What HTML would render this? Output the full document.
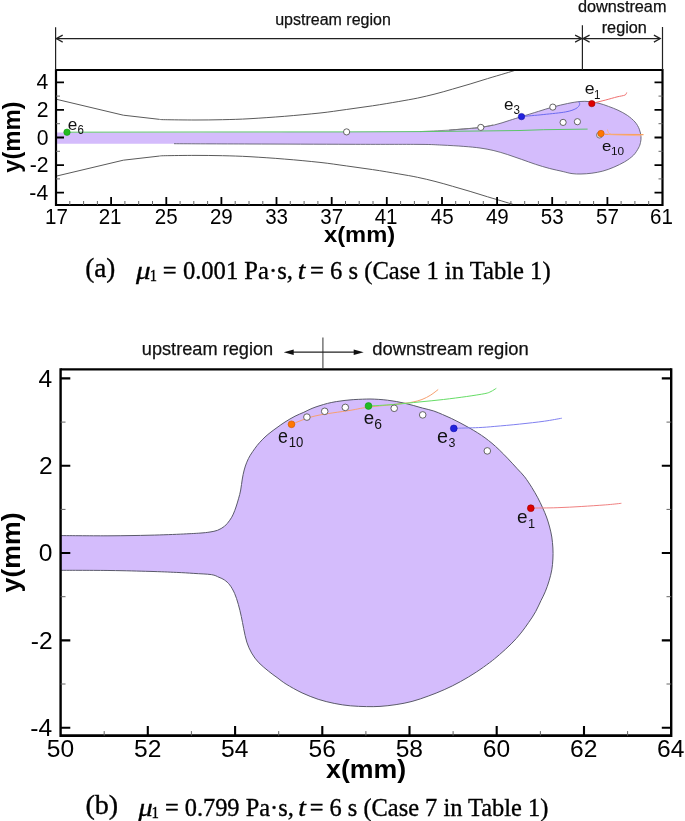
<!DOCTYPE html>
<html><head><meta charset="utf-8"><style>
html,body{margin:0;padding:0;background:#fff;width:685px;height:821px;overflow:hidden}
svg{display:block;will-change:transform}
</style></head><body>
<svg width="685" height="821" viewBox="0 0 685 821">
<rect width="685" height="821" fill="#fff"/>
<path d="M56.0,132.4 C71.7,132.4 117.7,132.4 150.0,132.4 C182.3,132.4 217.3,132.3 250.0,132.2 C282.7,132.1 317.7,132.1 346.0,132.0 C374.3,131.9 402.8,131.9 420.0,131.6 C437.2,131.3 441.2,130.6 449.2,130.1 C457.2,129.6 463.1,129.0 468.2,128.6 C473.3,128.2 475.6,128.0 480.0,127.4 C484.4,126.8 489.7,126.1 494.6,124.9 C499.5,123.8 504.7,121.9 509.2,120.5 C513.7,119.1 516.7,118.1 521.6,116.6 C526.5,115.1 533.2,113.0 538.4,111.4 C543.6,109.8 548.1,108.3 553.0,107.0 C557.9,105.7 563.1,104.4 567.6,103.5 C572.1,102.6 576.4,101.8 580.0,101.5 C583.6,101.2 586.3,101.3 589.5,101.6 C592.7,101.9 595.8,102.5 599.0,103.3 C602.2,104.1 605.3,105.2 608.5,106.4 C611.7,107.6 614.9,108.7 618.0,110.2 C621.1,111.7 624.6,113.4 627.4,115.4 C630.2,117.4 633.0,119.7 635.0,122.0 C637.0,124.3 638.3,126.7 639.3,129.2 C640.3,131.6 640.8,134.5 641.0,136.7 C641.2,138.9 640.9,140.6 640.5,142.5 C640.1,144.4 639.7,145.9 638.5,148.0 C637.3,150.1 635.8,152.9 633.5,155.2 C631.2,157.5 628.0,159.8 624.7,161.8 C621.4,163.8 617.4,165.6 613.8,167.2 C610.1,168.8 606.4,170.1 602.8,171.1 C599.1,172.1 595.5,172.7 591.9,173.2 C588.3,173.7 584.3,173.9 581.0,174.0 C577.7,174.1 575.0,174.0 572.0,173.6 C569.0,173.2 567.0,172.5 563.2,171.6 C559.4,170.7 553.9,169.6 549.3,168.4 C544.7,167.2 540.1,165.8 535.5,164.3 C530.9,162.8 526.2,161.0 521.6,159.4 C517.0,157.8 512.3,156.1 507.7,154.6 C503.1,153.1 498.5,151.7 493.9,150.6 C489.3,149.5 485.0,148.7 480.0,148.0 C475.0,147.3 470.2,146.9 463.8,146.4 C457.4,145.9 449.2,145.4 441.9,145.1 C434.6,144.8 435.3,144.5 420.0,144.4 C404.7,144.3 378.3,144.4 350.0,144.3 C321.7,144.2 279.3,144.1 250.0,144.0 C220.7,143.9 206.3,143.8 174.0,143.7 C141.7,143.6 75.7,143.7 56.0,143.7" fill="#d4bcfc" stroke="none"/>
<path d="M449.2,130.1 C452.4,129.8 463.1,129.0 468.2,128.6 C473.3,128.2 475.6,128.0 480.0,127.4 C484.4,126.8 489.7,126.1 494.6,124.9 C499.5,123.8 504.7,121.9 509.2,120.5 C513.7,119.1 516.7,118.1 521.6,116.6 C526.5,115.1 533.2,113.0 538.4,111.4 C543.6,109.8 548.1,108.3 553.0,107.0 C557.9,105.7 563.1,104.4 567.6,103.5 C572.1,102.6 576.4,101.8 580.0,101.5 C583.6,101.2 586.3,101.3 589.5,101.6 C592.7,101.9 595.8,102.5 599.0,103.3 C602.2,104.1 605.3,105.2 608.5,106.4 C611.7,107.6 614.9,108.7 618.0,110.2 C621.1,111.7 624.6,113.4 627.4,115.4 C630.2,117.4 633.0,119.7 635.0,122.0 C637.0,124.3 638.3,126.7 639.3,129.2 C640.3,131.6 640.8,134.5 641.0,136.7 C641.2,138.9 640.9,140.6 640.5,142.5 C640.1,144.4 639.7,145.9 638.5,148.0 C637.3,150.1 635.8,152.9 633.5,155.2 C631.2,157.5 628.0,159.8 624.7,161.8 C621.4,163.8 617.4,165.6 613.8,167.2 C610.1,168.8 606.4,170.1 602.8,171.1 C599.1,172.1 595.5,172.7 591.9,173.2 C588.3,173.7 584.3,173.9 581.0,174.0 C577.7,174.1 575.0,174.0 572.0,173.6 C569.0,173.2 567.0,172.5 563.2,171.6 C559.4,170.7 553.9,169.6 549.3,168.4 C544.7,167.2 540.1,165.8 535.5,164.3 C530.9,162.8 526.2,161.0 521.6,159.4 C517.0,157.8 512.3,156.1 507.7,154.6 C503.1,153.1 498.5,151.7 493.9,150.6 C489.3,149.5 485.0,148.7 480.0,148.0 C475.0,147.3 470.2,146.9 463.8,146.4 C457.4,145.9 449.2,145.4 441.9,145.1 C434.6,144.8 435.3,144.5 420.0,144.4 C404.7,144.3 378.3,144.4 350.0,144.3 C321.7,144.2 279.3,144.1 250.0,144.0 C220.7,143.9 186.7,143.8 174.0,143.7" fill="none" stroke="#5a5a6a" stroke-width="1" opacity="0.85"/>
<path d="M420.0,131.6 C424.9,131.3 441.2,130.6 449.2,130.1 C457.2,129.6 463.0,129.0 468.2,128.6 C473.4,128.2 476.5,128.0 480.6,127.4 C484.7,126.8 490.9,125.4 493.0,125.0" fill="none" stroke="#7a7a7a" stroke-width="0.8"/>
<path d="M56,99.2 L123.3,115.2 L159,119.3  C160.0,119.4 159.2,119.6 165.2,119.7 C171.2,119.8 185.5,120.0 195.0,120.0 C204.5,120.0 213.2,119.9 222.4,119.7 C231.6,119.5 239.6,119.3 250.0,118.7 C260.4,118.1 273.0,117.2 284.7,116.3 C296.4,115.3 309.7,114.1 320.0,113.0 C330.3,111.9 337.5,110.7 346.3,109.5 C355.1,108.3 363.9,107.1 372.6,105.8 C381.4,104.5 391.3,102.8 398.8,101.5 C406.3,100.2 411.5,99.3 417.5,98.1 C423.5,96.8 429.1,95.5 435.0,94.0 C440.9,92.5 446.8,90.8 452.6,89.1 C458.5,87.4 464.3,85.8 470.1,84.0 C475.9,82.2 481.8,80.4 487.6,78.6 C493.4,76.8 500.3,74.9 505.1,73.4 C509.9,72.0 514.6,70.5 516.5,69.9" fill="none" stroke="#5a5a5a" stroke-width="1"/>
<path d="M56,176.2 L123.3,160.2 L159,156.1  C160.0,156.0 159.2,155.8 165.2,155.7 C171.2,155.6 185.5,155.4 195.0,155.4 C204.5,155.4 213.2,155.5 222.4,155.7 C231.6,155.9 239.6,156.1 250.0,156.7 C260.4,157.3 273.0,158.1 284.7,159.1 C296.4,160.0 309.7,161.3 320.0,162.4 C330.3,163.5 337.5,164.7 346.3,165.9 C355.1,167.1 363.9,168.3 372.6,169.6 C381.4,170.9 391.3,172.6 398.8,173.9 C406.3,175.2 411.5,176.0 417.5,177.3 C423.5,178.5 429.1,179.9 435.0,181.4 C440.9,182.9 446.8,184.6 452.6,186.3 C458.5,188.0 464.3,189.6 470.1,191.4 C475.9,193.1 481.8,195.0 487.6,196.8 C493.4,198.6 500.3,200.5 505.1,202.0 C509.9,203.4 514.6,204.9 516.5,205.5" fill="none" stroke="#5a5a5a" stroke-width="1"/>
<path d="M67.0,132.2 L200.0,132.0 L346.0,131.9 L420.0,131.6 L480.0,131.0 L520.0,130.5 L543.8,129.7 L587.6,129.1" fill="none" stroke="#5cc46a" stroke-width="1"/>
<path d="M521.5,116.6 C525.2,116.2 536.4,115.3 543.8,114.5 C551.2,113.7 560.4,112.9 565.7,111.9 C571.1,110.9 573.6,109.8 575.9,108.6 C578.2,107.4 579.1,105.8 579.6,104.6 C580.1,103.4 578.9,102.2 578.8,101.7" fill="none" stroke="#6a6af0" stroke-width="1"/>
<path d="M591.8,103.5 C594.1,102.9 601.5,101.1 605.7,100.0 C609.9,98.9 613.8,97.7 617.0,96.9 C620.2,96.1 623.3,95.8 624.9,95.1 C626.5,94.4 626.4,92.9 626.7,92.5" fill="none" stroke="#f07070" stroke-width="1"/>
<path d="M604.5,134.3 L643.5,134.6" fill="none" stroke="#f8a060" stroke-width="1.2"/>
<path d="M608,134.5 L641,135.8" fill="none" stroke="#f8b080" stroke-width="0.8"/>
<path d="M607.5,129.5 C607.8,132 608.5,133.5 611,134.2" fill="none" stroke="#f8b080" stroke-width="0.8"/>
<circle cx="346.6" cy="131.9" r="3.1" fill="#fff" stroke="#555" stroke-width="0.9"/>
<circle cx="480.8" cy="127.4" r="3.1" fill="#fff" stroke="#555" stroke-width="0.9"/>
<circle cx="552.8" cy="107.1" r="3.1" fill="#fff" stroke="#555" stroke-width="0.9"/>
<circle cx="563.1" cy="122.4" r="3.1" fill="#fff" stroke="#555" stroke-width="0.9"/>
<circle cx="577.4" cy="121.7" r="3.1" fill="#fff" stroke="#555" stroke-width="0.9"/>
<circle cx="599.5" cy="135.1" r="3" fill="#ddd" stroke="#666" stroke-width="0.8"/>
<circle cx="67" cy="132.2" r="3.2" fill="#22bb22" stroke="#119911" stroke-width="0.6"/>
<circle cx="521.5" cy="116.6" r="3.2" fill="#2222dd" stroke="#1111aa" stroke-width="0.6"/>
<circle cx="591.8" cy="103.6" r="3.2" fill="#dd0000" stroke="#990000" stroke-width="0.6"/>
<circle cx="601" cy="133.5" r="3.2" fill="#ff7700" stroke="#cc5500" stroke-width="0.6"/>
<text x="67.78" y="129.93" font-family='"Liberation Sans", sans-serif' font-size="17.15" textLength="9.58" lengthAdjust="spacingAndGlyphs" fill="#111" xml:space="preserve" >e</text><text x="77.51" y="134.18" font-family='"Liberation Sans", sans-serif' font-size="11.86" textLength="6.39" lengthAdjust="spacingAndGlyphs" fill="#111" xml:space="preserve" >6</text>
<text x="503.99" y="110.43" font-family='"Liberation Sans", sans-serif' font-size="17.34" textLength="9.47" lengthAdjust="spacingAndGlyphs" fill="#111" xml:space="preserve" >e</text><text x="513.46" y="114.48" font-family='"Liberation Sans", sans-serif' font-size="12.14" textLength="6.45" lengthAdjust="spacingAndGlyphs" fill="#111" xml:space="preserve" >3</text>
<text x="584.76" y="94.14" font-family='"Liberation Sans", sans-serif' font-size="16.06" textLength="9.82" lengthAdjust="spacingAndGlyphs" fill="#111" xml:space="preserve" >e</text><text x="594.12" y="98.60" font-family='"Liberation Sans", sans-serif' font-size="11.86" textLength="6.45" lengthAdjust="spacingAndGlyphs" fill="#111" xml:space="preserve" >1</text>
<text x="601.99" y="151.15" font-family='"Liberation Sans", sans-serif' font-size="15.15" textLength="9.35" lengthAdjust="spacingAndGlyphs" fill="#111" xml:space="preserve" >e</text><text x="611.00" y="155.19" font-family='"Liberation Sans", sans-serif' font-size="11.29" textLength="13.16" lengthAdjust="spacingAndGlyphs" fill="#111" xml:space="preserve" >10</text>
<path d="M56,70 L662.5,70 M56,205 L662.5,205" stroke="#000" stroke-width="2.2" fill="none"/>
<path d="M56,69 L56,206 M662.5,69 L662.5,206" stroke="#000" stroke-width="2.2" fill="none"/>
<path d="M111.1,205 L111.1,197 M166.3,205 L166.3,197 M221.4,205 L221.4,197 M276.5,205 L276.5,197 M331.7,205 L331.7,197 M386.8,205 L386.8,197 M442.0,205 L442.0,197 M497.1,205 L497.1,197 M552.2,205 L552.2,197 M607.4,205 L607.4,197 M56,192.7 L64,192.7 M662.5,192.7 L654.5,192.7 M56,165.1 L64,165.1 M662.5,165.1 L654.5,165.1 M56,137.5 L64,137.5 M662.5,137.5 L654.5,137.5 M56,109.9 L64,109.9 M662.5,109.9 L654.5,109.9 M56,82.3 L64,82.3 M662.5,82.3 L654.5,82.3" stroke="#000" stroke-width="1.8" fill="none"/>
<path d="M69.8,205 L69.8,201 M83.6,205 L83.6,201 M97.4,205 L97.4,201 M124.9,205 L124.9,201 M138.7,205 L138.7,201 M152.5,205 L152.5,201 M180.1,205 L180.1,201 M193.8,205 L193.8,201 M207.6,205 L207.6,201 M235.2,205 L235.2,201 M249.0,205 L249.0,201 M262.8,205 L262.8,201 M290.3,205 L290.3,201 M304.1,205 L304.1,201 M317.9,205 L317.9,201 M345.5,205 L345.5,201 M359.2,205 L359.2,201 M373.0,205 L373.0,201 M400.6,205 L400.6,201 M414.4,205 L414.4,201 M428.2,205 L428.2,201 M455.7,205 L455.7,201 M469.5,205 L469.5,201 M483.3,205 L483.3,201 M510.9,205 L510.9,201 M524.7,205 L524.7,201 M538.4,205 L538.4,201 M566.0,205 L566.0,201 M579.8,205 L579.8,201 M593.6,205 L593.6,201 M621.1,205 L621.1,201 M634.9,205 L634.9,201 M648.7,205 L648.7,201 M56,178.9 L60,178.9 M662.5,178.9 L658.5,178.9 M56,151.3 L60,151.3 M662.5,151.3 L658.5,151.3 M56,123.7 L60,123.7 M662.5,123.7 L658.5,123.7 M56,96.1 L60,96.1 M662.5,96.1 L658.5,96.1" stroke="#666" stroke-width="1" fill="none"/>
<text x="45.10" y="223.80" font-family='"Liberation Sans", sans-serif' font-size="21.20" textLength="22.87" lengthAdjust="spacingAndGlyphs" fill="#000" xml:space="preserve" >17</text>
<text x="98.69" y="223.80" font-family='"Liberation Sans", sans-serif' font-size="21.20" textLength="22.87" lengthAdjust="spacingAndGlyphs" fill="#000" xml:space="preserve" >21</text>
<text x="154.76" y="223.80" font-family='"Liberation Sans", sans-serif' font-size="21.20" textLength="22.87" lengthAdjust="spacingAndGlyphs" fill="#000" xml:space="preserve" >25</text>
<text x="209.94" y="223.80" font-family='"Liberation Sans", sans-serif' font-size="21.20" textLength="22.87" lengthAdjust="spacingAndGlyphs" fill="#000" xml:space="preserve" >29</text>
<text x="265.17" y="223.80" font-family='"Liberation Sans", sans-serif' font-size="21.20" textLength="22.87" lengthAdjust="spacingAndGlyphs" fill="#000" xml:space="preserve" >33</text>
<text x="320.37" y="223.80" font-family='"Liberation Sans", sans-serif' font-size="21.20" textLength="22.87" lengthAdjust="spacingAndGlyphs" fill="#000" xml:space="preserve" >37</text>
<text x="374.65" y="223.80" font-family='"Liberation Sans", sans-serif' font-size="21.20" textLength="22.87" lengthAdjust="spacingAndGlyphs" fill="#000" xml:space="preserve" >41</text>
<text x="430.72" y="223.80" font-family='"Liberation Sans", sans-serif' font-size="21.20" textLength="22.87" lengthAdjust="spacingAndGlyphs" fill="#000" xml:space="preserve" >45</text>
<text x="485.90" y="223.80" font-family='"Liberation Sans", sans-serif' font-size="21.20" textLength="22.87" lengthAdjust="spacingAndGlyphs" fill="#000" xml:space="preserve" >49</text>
<text x="540.83" y="223.80" font-family='"Liberation Sans", sans-serif' font-size="21.20" textLength="22.87" lengthAdjust="spacingAndGlyphs" fill="#000" xml:space="preserve" >53</text>
<text x="596.03" y="223.80" font-family='"Liberation Sans", sans-serif' font-size="21.20" textLength="22.87" lengthAdjust="spacingAndGlyphs" fill="#000" xml:space="preserve" >57</text>
<text x="650.05" y="223.80" font-family='"Liberation Sans", sans-serif' font-size="21.20" textLength="22.87" lengthAdjust="spacingAndGlyphs" fill="#000" xml:space="preserve" >61</text>
<text x="36.43" y="89.40" font-family='"Liberation Sans", sans-serif' font-size="21.20" fill="#000" xml:space="preserve" >4</text>
<text x="36.87" y="117.00" font-family='"Liberation Sans", sans-serif' font-size="21.20" fill="#000" xml:space="preserve" >2</text>
<text x="36.64" y="144.60" font-family='"Liberation Sans", sans-serif' font-size="21.20" fill="#000" xml:space="preserve" >0</text>
<text x="29.81" y="172.20" font-family='"Liberation Sans", sans-serif' font-size="21.20" fill="#000" xml:space="preserve" >-2</text>
<text x="29.37" y="199.80" font-family='"Liberation Sans", sans-serif' font-size="21.20" fill="#000" xml:space="preserve" >-4</text>
<text x="324.03" y="241.80" font-family='"Liberation Sans", sans-serif' font-size="22.60" font-weight="bold" textLength="71.16" lengthAdjust="spacingAndGlyphs" fill="#000" xml:space="preserve" >x(mm)</text>
<text transform="rotate(-90)" x="-172.79" y="20.20" font-family='"Liberation Sans", sans-serif' font-size="23.60" font-weight="bold" textLength="71.19" lengthAdjust="spacingAndGlyphs" fill="#000">y(mm)</text>
<path d="M55.6,27.3 L55.6,70 M582.4,25.3 L582.4,70 M662.5,26.9 L662.5,70" stroke="#222" stroke-width="1.2" fill="none"/>
<path d="M56,38.6 L660,38.6" stroke="#222" stroke-width="1.2" fill="none"/>
<path d="M62.7,35.1 L56.3,38.6 L62.7,42.1 M575.1,35.1 L581.8,38.6 L575.1,42.1 M589.6,35.1 L583,38.6 L589.6,42.1 M653.9,35.1 L660.3,38.6 L653.9,42.1" stroke="#222" stroke-width="1.2" fill="none"/>
<text x="275.16" y="24.90" font-family='"Liberation Sans", sans-serif' font-size="16.00" fill="#111" xml:space="preserve" stroke="#111" stroke-width="0.25">upstream region</text>
<text x="577.92" y="11.70" font-family='"Liberation Sans", sans-serif' font-size="16.40" textLength="88.55" lengthAdjust="spacingAndGlyphs" fill="#111" xml:space="preserve" stroke="#111" stroke-width="0.25">downstream</text>
<text x="601.73" y="32.70" font-family='"Liberation Sans", sans-serif' font-size="16.60" textLength="45.12" lengthAdjust="spacingAndGlyphs" fill="#111" xml:space="preserve" stroke="#111" stroke-width="0.25">region</text>
<text x="85.20" y="276.60" font-family='"Liberation Serif", serif' font-size="27.60" textLength="30.19" lengthAdjust="spacingAndGlyphs" fill="#000" xml:space="preserve" stroke="#000" stroke-width="0.35">(a)</text><text x="136.03" y="278.70" font-family='"Liberation Serif", serif' font-size="24.60" font-style="italic" textLength="14.63" lengthAdjust="spacingAndGlyphs" fill="#000" xml:space="preserve" stroke="#000" stroke-width="0.35">μ</text><text x="149.72" y="280.90" font-family='"Liberation Serif", serif' font-size="16.00" textLength="7.24" lengthAdjust="spacingAndGlyphs" fill="#000" xml:space="preserve" stroke="#000" stroke-width="0.35">1</text><text x="162.87" y="278.70" font-family='"Liberation Serif", serif' font-size="24.60" fill="#000" xml:space="preserve" stroke="#000" stroke-width="0.35">= 0.001 Pa·s,</text><text x="297.79" y="278.70" font-family='"Liberation Serif", serif' font-size="24.60" font-style="italic" textLength="7.66" lengthAdjust="spacingAndGlyphs" fill="#000" xml:space="preserve" stroke="#000" stroke-width="0.35">t</text><text x="310.07" y="278.70" font-family='"Liberation Serif", serif' font-size="24.60" fill="#000" xml:space="preserve" stroke="#000" stroke-width="0.35">= 6 s (Case 1 in Table 1)</text>
<path d="M60.0,535.6 C68.3,535.6 95.0,535.9 110.0,535.8 C125.0,535.7 137.7,535.5 150.0,535.2 C162.3,534.9 175.3,534.4 183.6,534.0 C191.9,533.6 195.6,533.4 200.0,533.1 C204.4,532.8 207.1,532.5 210.0,532.0 C212.9,531.5 215.1,531.2 217.5,530.3 C219.9,529.3 222.4,528.0 224.5,526.3 C226.6,524.6 228.3,522.2 229.8,520.2 C231.3,518.2 232.3,516.3 233.3,514.1 C234.3,511.9 235.1,509.6 236.0,507.0 C236.9,504.4 237.7,501.6 238.5,498.8 C239.3,496.0 240.1,493.3 240.7,490.0 C241.3,486.7 241.7,482.3 242.3,479.0 C242.9,475.7 243.4,472.8 244.2,470.0 C244.9,467.2 245.8,464.7 246.8,462.2 C247.8,459.7 248.9,457.5 250.3,455.2 C251.7,452.9 253.5,450.4 255.0,448.3 C256.5,446.2 257.7,444.7 259.4,442.8 C261.1,440.9 263.1,438.8 265.0,437.0 C266.9,435.2 269.0,433.6 271.0,432.0 C273.0,430.4 274.7,429.3 277.0,427.6 C279.3,425.9 282.0,423.9 285.0,422.0 C288.0,420.1 291.9,417.8 295.0,416.2 C298.1,414.6 301.0,413.6 303.8,412.3 C306.6,411.0 309.3,409.5 312.0,408.4 C314.7,407.3 317.4,406.4 320.0,405.6 C322.6,404.8 324.8,404.1 327.5,403.4 C330.2,402.7 333.4,402.1 336.3,401.6 C339.2,401.1 342.1,400.7 345.0,400.4 C347.9,400.1 350.9,399.8 353.8,399.6 C356.7,399.4 359.9,399.3 362.6,399.2 C365.3,399.1 367.3,399.0 370.0,399.0 C372.7,399.0 375.9,399.2 378.8,399.4 C381.7,399.6 384.6,399.8 387.5,400.2 C390.4,400.6 393.4,401.0 396.3,401.5 C399.2,402.0 402.1,402.6 405.0,403.3 C407.9,404.0 410.9,404.8 413.8,405.6 C416.7,406.4 419.3,407.2 422.6,408.1 C425.9,409.0 430.5,409.9 433.8,411.0 C437.1,412.1 439.6,413.3 442.5,414.5 C445.4,415.7 448.4,417.0 451.3,418.4 C454.2,419.8 457.1,421.3 460.0,422.8 C462.9,424.3 465.9,425.9 468.8,427.6 C471.7,429.3 474.9,431.1 477.6,432.8 C480.3,434.5 482.6,436.1 485.0,437.8 C487.4,439.6 489.6,441.3 492.0,443.3 C494.4,445.3 496.7,447.4 499.4,450.0 C502.1,452.6 505.1,455.7 508.1,458.8 C511.1,461.9 514.5,465.8 517.3,468.8 C520.0,471.8 522.2,473.7 524.6,476.8 C527.0,479.9 529.7,484.1 531.9,487.6 C534.1,491.1 536.0,494.5 537.8,497.8 C539.6,501.1 541.0,504.3 542.5,507.5 C544.0,510.7 545.3,513.8 546.5,517.0 C547.7,520.2 548.7,523.7 549.6,527.0 C550.5,530.3 551.2,533.5 551.8,537.0 C552.3,540.5 552.7,544.3 552.9,548.0 C553.1,551.7 553.1,555.4 552.9,559.0 C552.7,562.6 552.4,566.2 551.8,569.8 C551.2,573.4 550.2,577.1 549.1,580.8 C548.0,584.5 546.6,588.5 545.2,591.8 C543.9,595.1 542.6,597.2 541.0,600.5 C539.4,603.8 537.6,608.1 535.6,611.7 C533.6,615.4 531.2,618.8 528.7,622.4 C526.2,626.0 523.8,629.5 520.9,633.1 C518.0,636.7 514.8,640.3 511.2,643.9 C507.6,647.5 503.1,651.5 499.5,654.6 C495.9,657.7 493.6,659.7 489.7,662.6 C485.8,665.5 481.3,668.8 476.4,672.0 C471.5,675.2 465.7,678.8 460.3,681.7 C454.9,684.7 449.6,687.3 444.2,689.7 C438.8,692.1 433.5,694.2 428.2,696.1 C422.9,698.0 417.5,700.0 412.1,701.4 C406.8,702.8 401.5,703.8 396.1,704.6 C390.8,705.4 384.9,706.1 380.0,706.4 C375.1,706.7 371.3,706.7 366.4,706.6 C361.4,706.5 355.7,706.3 350.3,705.8 C344.9,705.3 339.6,704.5 334.2,703.4 C328.8,702.3 323.5,701.0 318.2,699.3 C312.9,697.5 307.5,695.4 302.1,692.9 C296.8,690.4 290.3,686.7 286.1,684.1 C281.9,681.5 279.9,679.6 277.0,677.5 C274.1,675.4 271.7,673.8 268.7,671.3 C265.7,668.8 261.8,665.8 258.9,662.8 C256.0,659.8 253.6,656.5 251.6,653.0 C249.6,649.5 248.1,646.1 246.8,642.1 C245.5,638.1 244.6,633.0 243.7,628.7 C242.8,624.4 242.2,620.6 241.3,616.5 C240.4,612.4 239.4,608.1 238.3,604.3 C237.2,600.4 236.0,596.6 234.6,593.4 C233.2,590.2 231.4,587.1 229.7,584.9 C228.0,582.7 226.3,581.3 224.5,580.0 C222.7,578.7 221.2,578.2 219.0,577.3 C216.8,576.4 215.5,575.2 211.3,574.6 C207.1,574.0 199.6,573.8 193.8,573.4 C188.0,573.0 183.6,572.7 176.3,572.4 C169.0,572.1 161.1,571.7 150.0,571.4 C138.9,571.1 125.0,570.7 110.0,570.5 C95.0,570.3 68.3,570.3 60.0,570.3 Z" fill="#d4bcfc" stroke="none"/>
<path d="M60.0,535.6 C68.3,535.6 95.0,535.9 110.0,535.8 C125.0,535.7 137.7,535.5 150.0,535.2 C162.3,534.9 175.3,534.4 183.6,534.0 C191.9,533.6 195.6,533.4 200.0,533.1 C204.4,532.8 207.1,532.5 210.0,532.0 C212.9,531.5 215.1,531.2 217.5,530.3 C219.9,529.3 222.4,528.0 224.5,526.3 C226.6,524.6 228.3,522.2 229.8,520.2 C231.3,518.2 232.3,516.3 233.3,514.1 C234.3,511.9 235.1,509.6 236.0,507.0 C236.9,504.4 237.7,501.6 238.5,498.8 C239.3,496.0 240.1,493.3 240.7,490.0 C241.3,486.7 241.7,482.3 242.3,479.0 C242.9,475.7 243.4,472.8 244.2,470.0 C244.9,467.2 245.8,464.7 246.8,462.2 C247.8,459.7 248.9,457.5 250.3,455.2 C251.7,452.9 253.5,450.4 255.0,448.3 C256.5,446.2 257.7,444.7 259.4,442.8 C261.1,440.9 263.1,438.8 265.0,437.0 C266.9,435.2 269.0,433.6 271.0,432.0 C273.0,430.4 274.7,429.3 277.0,427.6 C279.3,425.9 282.0,423.9 285.0,422.0 C288.0,420.1 291.9,417.8 295.0,416.2 C298.1,414.6 301.0,413.6 303.8,412.3 C306.6,411.0 309.3,409.5 312.0,408.4 C314.7,407.3 317.4,406.4 320.0,405.6 C322.6,404.8 324.8,404.1 327.5,403.4 C330.2,402.7 333.4,402.1 336.3,401.6 C339.2,401.1 342.1,400.7 345.0,400.4 C347.9,400.1 350.9,399.8 353.8,399.6 C356.7,399.4 359.9,399.3 362.6,399.2 C365.3,399.1 367.3,399.0 370.0,399.0 C372.7,399.0 375.9,399.2 378.8,399.4 C381.7,399.6 384.6,399.8 387.5,400.2 C390.4,400.6 393.4,401.0 396.3,401.5 C399.2,402.0 402.1,402.6 405.0,403.3 C407.9,404.0 410.9,404.8 413.8,405.6 C416.7,406.4 419.3,407.2 422.6,408.1 C425.9,409.0 430.5,409.9 433.8,411.0 C437.1,412.1 439.6,413.3 442.5,414.5 C445.4,415.7 448.4,417.0 451.3,418.4 C454.2,419.8 457.1,421.3 460.0,422.8 C462.9,424.3 465.9,425.9 468.8,427.6 C471.7,429.3 474.9,431.1 477.6,432.8 C480.3,434.5 482.6,436.1 485.0,437.8 C487.4,439.6 489.6,441.3 492.0,443.3 C494.4,445.3 496.7,447.4 499.4,450.0 C502.1,452.6 505.1,455.7 508.1,458.8 C511.1,461.9 514.5,465.8 517.3,468.8 C520.0,471.8 522.2,473.7 524.6,476.8 C527.0,479.9 529.7,484.1 531.9,487.6 C534.1,491.1 536.0,494.5 537.8,497.8 C539.6,501.1 541.0,504.3 542.5,507.5 C544.0,510.7 545.3,513.8 546.5,517.0 C547.7,520.2 548.7,523.7 549.6,527.0 C550.5,530.3 551.2,533.5 551.8,537.0 C552.3,540.5 552.7,544.3 552.9,548.0 C553.1,551.7 553.1,555.4 552.9,559.0 C552.7,562.6 552.4,566.2 551.8,569.8 C551.2,573.4 550.2,577.1 549.1,580.8 C548.0,584.5 546.6,588.5 545.2,591.8 C543.9,595.1 542.6,597.2 541.0,600.5 C539.4,603.8 537.6,608.1 535.6,611.7 C533.6,615.4 531.2,618.8 528.7,622.4 C526.2,626.0 523.8,629.5 520.9,633.1 C518.0,636.7 514.8,640.3 511.2,643.9 C507.6,647.5 503.1,651.5 499.5,654.6 C495.9,657.7 493.6,659.7 489.7,662.6 C485.8,665.5 481.3,668.8 476.4,672.0 C471.5,675.2 465.7,678.8 460.3,681.7 C454.9,684.7 449.6,687.3 444.2,689.7 C438.8,692.1 433.5,694.2 428.2,696.1 C422.9,698.0 417.5,700.0 412.1,701.4 C406.8,702.8 401.5,703.8 396.1,704.6 C390.8,705.4 384.9,706.1 380.0,706.4 C375.1,706.7 371.3,706.7 366.4,706.6 C361.4,706.5 355.7,706.3 350.3,705.8 C344.9,705.3 339.6,704.5 334.2,703.4 C328.8,702.3 323.5,701.0 318.2,699.3 C312.9,697.5 307.5,695.4 302.1,692.9 C296.8,690.4 290.3,686.7 286.1,684.1 C281.9,681.5 279.9,679.6 277.0,677.5 C274.1,675.4 271.7,673.8 268.7,671.3 C265.7,668.8 261.8,665.8 258.9,662.8 C256.0,659.8 253.6,656.5 251.6,653.0 C249.6,649.5 248.1,646.1 246.8,642.1 C245.5,638.1 244.6,633.0 243.7,628.7 C242.8,624.4 242.2,620.6 241.3,616.5 C240.4,612.4 239.4,608.1 238.3,604.3 C237.2,600.4 236.0,596.6 234.6,593.4 C233.2,590.2 231.4,587.1 229.7,584.9 C228.0,582.7 226.3,581.3 224.5,580.0 C222.7,578.7 221.2,578.2 219.0,577.3 C216.8,576.4 215.5,575.2 211.3,574.6 C207.1,574.0 199.6,573.8 193.8,573.4 C188.0,573.0 183.6,572.7 176.3,572.4 C169.0,572.1 161.1,571.7 150.0,571.4 C138.9,571.1 125.0,570.7 110.0,570.5 C95.0,570.3 68.3,570.3 60.0,570.3" fill="none" stroke="#5a5a6a" stroke-width="1"/>
<path d="M291.5,424.3 C295.4,422.9 305.2,418.3 315.0,416.0 C324.8,413.7 341.2,411.8 350.0,410.4 C358.8,408.9 359.3,408.4 367.6,407.3 C375.9,406.2 392.6,404.7 400.0,403.8 C407.4,402.9 408.3,402.9 412.0,402.2 C415.7,401.5 418.9,400.7 422.0,399.5 C425.1,398.3 428.1,396.7 430.8,395.0 C433.5,393.3 437.0,390.4 438.2,389.5" fill="none" stroke="#f8a070" stroke-width="1"/>
<path d="M368.5,406.0 C372.6,405.8 384.8,405.2 393.4,404.5 C402.0,403.8 411.7,402.7 420.0,401.9 C428.3,401.1 435.6,400.4 443.4,399.5 C451.2,398.6 459.8,397.5 466.7,396.5 C473.6,395.5 480.8,394.4 484.9,393.6 C488.9,392.8 489.1,392.4 491.0,391.5 C492.9,390.6 495.4,388.8 496.3,388.3" fill="none" stroke="#66dd66" stroke-width="1"/>
<path d="M453.9,428.3 C458.0,428.2 471.6,427.9 478.4,427.6 C485.2,427.3 487.9,427.0 494.8,426.4 C501.7,425.8 511.3,425.0 519.6,424.1 C527.9,423.2 537.4,422.2 544.4,421.2 C551.4,420.2 558.9,418.7 561.8,418.2" fill="none" stroke="#8080f0" stroke-width="1"/>
<path d="M530.6,508.1 C535.0,508.0 548.7,508.0 557.1,507.7 C565.5,507.4 573.2,507.0 581.2,506.5 C589.2,506.0 598.6,505.4 605.3,504.9 C612.0,504.4 618.7,503.6 621.4,503.3" fill="none" stroke="#f08080" stroke-width="1"/>
<circle cx="306.9" cy="417.1" r="3.3" fill="#fff" stroke="#555" stroke-width="0.9"/>
<circle cx="324.7" cy="411.3" r="3.3" fill="#fff" stroke="#555" stroke-width="0.9"/>
<circle cx="345.3" cy="407.4" r="3.3" fill="#fff" stroke="#555" stroke-width="0.9"/>
<circle cx="394.2" cy="408.3" r="3.3" fill="#fff" stroke="#555" stroke-width="0.9"/>
<circle cx="422.7" cy="414.9" r="3.3" fill="#fff" stroke="#555" stroke-width="0.9"/>
<circle cx="487.3" cy="450.9" r="3.3" fill="#fff" stroke="#555" stroke-width="0.9"/>
<circle cx="291.5" cy="424.3" r="3.4" fill="#ff7700" stroke="#cc5500" stroke-width="0.6"/>
<circle cx="368.5" cy="406.0" r="3.4" fill="#22bb22" stroke="#119911" stroke-width="0.6"/>
<circle cx="453.8" cy="428.4" r="3.4" fill="#2222dd" stroke="#1111aa" stroke-width="0.6"/>
<circle cx="530.8" cy="508.2" r="3.4" fill="#dd0000" stroke="#990000" stroke-width="0.6"/>
<text x="278.05" y="442.70" font-family='"Liberation Sans", sans-serif' font-size="19.89" textLength="9.94" lengthAdjust="spacingAndGlyphs" fill="#111" xml:space="preserve" >e</text><text x="288.80" y="447.16" font-family='"Liberation Sans", sans-serif' font-size="13.71" textLength="14.62" lengthAdjust="spacingAndGlyphs" fill="#111" xml:space="preserve" >10</text>
<text x="363.81" y="424.01" font-family='"Liberation Sans", sans-serif' font-size="19.16" textLength="10.41" lengthAdjust="spacingAndGlyphs" fill="#111" xml:space="preserve" >e</text><text x="374.39" y="428.66" font-family='"Liberation Sans", sans-serif' font-size="13.71" textLength="7.72" lengthAdjust="spacingAndGlyphs" fill="#111" xml:space="preserve" >6</text>
<text x="436.97" y="442.51" font-family='"Liberation Sans", sans-serif' font-size="19.34" textLength="11.00" lengthAdjust="spacingAndGlyphs" fill="#111" xml:space="preserve" >e</text><text x="448.53" y="446.77" font-family='"Liberation Sans", sans-serif' font-size="13.00" textLength="6.92" lengthAdjust="spacingAndGlyphs" fill="#111" xml:space="preserve" >3</text>
<text x="517.10" y="522.51" font-family='"Liberation Sans", sans-serif' font-size="18.98" fill="#111" xml:space="preserve" >e</text><text x="528.03" y="527.80" font-family='"Liberation Sans", sans-serif' font-size="13.14" textLength="7.10" lengthAdjust="spacingAndGlyphs" fill="#111" xml:space="preserve" >1</text>
<path d="M60.6,369.3 L671.2,369.3" stroke="#000" stroke-width="2.3" fill="none"/>
<path d="M60.6,735.6 L671.2,735.6" stroke="#000" stroke-width="2.7" fill="none"/>
<path d="M60.6,368.2 L60.6,737.0 M671.2,368.2 L671.2,737.0" stroke="#000" stroke-width="2.4" fill="none"/>
<path d="M147.8,735.6 L147.8,726.1 M235.1,735.6 L235.1,726.1 M322.3,735.6 L322.3,726.1 M409.5,735.6 L409.5,726.1 M496.7,735.6 L496.7,726.1 M584.0,735.6 L584.0,726.1 M60.6,727.7 L70.3,727.7 M671.2,727.7 L661.8,727.7 M60.6,640.4 L70.3,640.4 M671.2,640.4 L661.8,640.4 M60.6,553.0 L70.3,553.0 M671.2,553.0 L661.8,553.0 M60.6,465.7 L70.3,465.7 M671.2,465.7 L661.8,465.7 M60.6,378.4 L70.3,378.4 M671.2,378.4 L661.8,378.4" stroke="#000" stroke-width="2.1" fill="none"/>
<path d="M104.2,735.6 L104.2,731.1 M191.4,735.6 L191.4,731.1 M278.7,735.6 L278.7,731.1 M365.9,735.6 L365.9,731.1 M453.1,735.6 L453.1,731.1 M540.4,735.6 L540.4,731.1 M627.6,735.6 L627.6,731.1 M60.6,684.0 L65.5,684.0 M671.2,684.0 L666.5,684.0 M60.6,596.7 L65.5,596.7 M671.2,596.7 L666.5,596.7 M60.6,509.4 L65.5,509.4 M671.2,509.4 L666.5,509.4 M60.6,422.1 L65.5,422.1 M671.2,422.1 L666.5,422.1" stroke="#666" stroke-width="1" fill="none"/>
<text x="46.71" y="757.20" font-family='"Liberation Sans", sans-serif' font-size="24.60" fill="#000" xml:space="preserve" >50</text>
<text x="134.07" y="757.20" font-family='"Liberation Sans", sans-serif' font-size="24.60" fill="#000" xml:space="preserve" >52</text>
<text x="221.04" y="757.20" font-family='"Liberation Sans", sans-serif' font-size="24.60" fill="#000" xml:space="preserve" >54</text>
<text x="308.46" y="757.20" font-family='"Liberation Sans", sans-serif' font-size="24.60" fill="#000" xml:space="preserve" >56</text>
<text x="395.67" y="757.20" font-family='"Liberation Sans", sans-serif' font-size="24.60" fill="#000" xml:space="preserve" >58</text>
<text x="482.72" y="757.20" font-family='"Liberation Sans", sans-serif' font-size="24.60" fill="#000" xml:space="preserve" >60</text>
<text x="570.08" y="757.20" font-family='"Liberation Sans", sans-serif' font-size="24.60" fill="#000" xml:space="preserve" >62</text>
<text x="657.05" y="757.20" font-family='"Liberation Sans", sans-serif' font-size="24.60" fill="#000" xml:space="preserve" >64</text>
<text x="38.44" y="386.71" font-family='"Liberation Sans", sans-serif' font-size="24.60" fill="#000" xml:space="preserve" >4</text>
<text x="38.95" y="474.03" font-family='"Liberation Sans", sans-serif' font-size="24.60" fill="#000" xml:space="preserve" >2</text>
<text x="38.68" y="561.35" font-family='"Liberation Sans", sans-serif' font-size="24.60" fill="#000" xml:space="preserve" >0</text>
<text x="30.76" y="648.67" font-family='"Liberation Sans", sans-serif' font-size="24.60" fill="#000" xml:space="preserve" >-2</text>
<text x="30.24" y="735.99" font-family='"Liberation Sans", sans-serif' font-size="24.60" fill="#000" xml:space="preserve" >-4</text>
<text x="326.11" y="777.60" font-family='"Liberation Sans", sans-serif' font-size="26.30" font-weight="bold" textLength="80.03" lengthAdjust="spacingAndGlyphs" fill="#000" xml:space="preserve" >x(mm)</text>
<text transform="rotate(-90)" x="-592.41" y="20.40" font-family='"Liberation Sans", sans-serif' font-size="26.50" font-weight="bold" textLength="80.06" lengthAdjust="spacingAndGlyphs" fill="#000">y(mm)</text>
<path d="M322.9,337.4 L322.9,368" stroke="#555" stroke-width="1.2" fill="none"/>
<path d="M292,352.2 L355,352.2" stroke="#222" stroke-width="1.2" fill="none"/>
<path d="M283.7,352.2 L293.7,349.4 L293.7,355 Z M363.7,352.2 L353.7,349.4 L353.7,355 Z" fill="#111"/>
<text x="141.82" y="354.60" font-family='"Liberation Sans", sans-serif' font-size="18.60" textLength="131.37" lengthAdjust="spacingAndGlyphs" fill="#111" xml:space="preserve" stroke="#111" stroke-width="0.25">upstream region</text>
<text x="372.33" y="354.50" font-family='"Liberation Sans", sans-serif' font-size="18.60" textLength="156.48" lengthAdjust="spacingAndGlyphs" fill="#111" xml:space="preserve" stroke="#111" stroke-width="0.25">downstream region</text>
<text x="85.46" y="813.90" font-family='"Liberation Serif", serif' font-size="27.60" textLength="32.77" lengthAdjust="spacingAndGlyphs" fill="#000" xml:space="preserve" stroke="#000" stroke-width="0.35">(b)</text><text x="138.43" y="815.90" font-family='"Liberation Serif", serif' font-size="24.60" font-style="italic" textLength="14.20" lengthAdjust="spacingAndGlyphs" fill="#000" xml:space="preserve" stroke="#000" stroke-width="0.35">μ</text><text x="151.60" y="818.10" font-family='"Liberation Serif", serif' font-size="16.00" textLength="7.39" lengthAdjust="spacingAndGlyphs" fill="#000" xml:space="preserve" stroke="#000" stroke-width="0.35">1</text><text x="164.88" y="815.90" font-family='"Liberation Serif", serif' font-size="24.60" textLength="128.86" lengthAdjust="spacingAndGlyphs" fill="#000" xml:space="preserve" stroke="#000" stroke-width="0.35">= 0.799 Pa·s,</text><text x="298.39" y="815.90" font-family='"Liberation Serif", serif' font-size="24.60" font-style="italic" textLength="7.66" lengthAdjust="spacingAndGlyphs" fill="#000" xml:space="preserve" stroke="#000" stroke-width="0.35">t</text><text x="309.68" y="815.90" font-family='"Liberation Serif", serif' font-size="24.60" textLength="238.70" lengthAdjust="spacingAndGlyphs" fill="#000" xml:space="preserve" stroke="#000" stroke-width="0.35">= 6 s (Case 7 in Table 1)</text>
</svg>
</body></html>
